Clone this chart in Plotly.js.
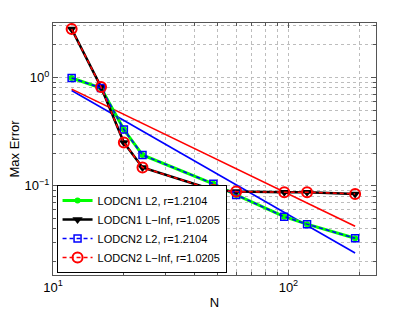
<!DOCTYPE html>
<html>
<head>
<meta charset="utf-8">
<script src="https://cdn.plot.ly/plotly-3.0.1.min.js"></script>
<style>html,body{margin:0;padding:0;background:#fff;}#chart{width:415px;height:310px;}</style>
</head>
<body>
<div id="chart"></div>
<script>
// Data
var N = [12, 16, 20, 24, 48, 60, 96, 120, 192];
var cn1L2 = [0.99, 0.80, 0.33, 0.192, 0.104, 0.082, 0.0516, 0.044, 0.0326];
var cn1Linf = [2.81, 0.815, 0.25, 0.147, 0.0912, 0.088, 0.0869, 0.0869, 0.0838];
var cn2L2 = [0.99, 0.80, 0.33, 0.192, 0.104, 0.082, 0.0516, 0.044, 0.0326];
var cn2Linf = [2.81, 0.815, 0.25, 0.147, 0.0912, 0.088, 0.0869, 0.0869, 0.0838];
// Reference slope lines (endpoints)
var refN = [12, 192];
var refLinf = [0.78, 0.042];
var refL2 = [0.758, 0.0238];
var names = ['LODCN1 L2, r=1.2104', 'LODCN1 L\u2212Inf, r=1.0205', 'LODCN2 L2, r=1.2104', 'LODCN2 L\u2212Inf, r=1.0205'];

var xMinorVals = [], yMinorVals = [];
[10, 100].forEach(function (d) { for (var k = 2; k <= 9; k++) xMinorVals.push(d * k); });
[0.01, 0.1, 1].forEach(function (d) { for (var k = 2; k <= 9; k++) yMinorVals.push(d * k); });

var traces = [
  {x: refN, y: refL2, mode: 'lines', line: {color: '#0000ff', width: 1.6}, showlegend: false, hoverinfo: 'skip'},
  {x: refN, y: refLinf, mode: 'lines', line: {color: '#ff0000', width: 1.6}, showlegend: false, hoverinfo: 'skip'},
  {x: N, y: cn1L2, name: names[0], mode: 'lines+markers', line: {color: '#00ff00', width: 3},
   marker: {symbol: 'circle', size: 6, color: '#00ff00'}},
  {x: N, y: cn1Linf, name: names[1], mode: 'lines+markers', line: {color: '#000000', width: 2.5},
   marker: {symbol: 'triangle-down', size: 9, color: '#000000'}},
  {x: N, y: cn2L2, name: names[2], mode: 'lines+markers', line: {color: '#0000ff', width: 1.5, dash: '4px,3px'},
   marker: {symbol: 'square-open', size: 7, color: '#0000ff', line: {width: 1.5}}},
  {x: N, y: cn2Linf, name: names[3], mode: 'lines+markers', line: {color: '#ff0000', width: 1.5, dash: '4px,3px'},
   marker: {symbol: 'circle-open', size: 10, color: '#ff0000', line: {width: 2}}}
];

var fontFam = 'Liberation Sans, Arial, sans-serif';
var gridCol = '#bdbdbd';
var axisCommon = {
  type: 'log', showline: true, linecolor: '#555', linewidth: 1, mirror: 'ticks',
  ticks: 'inside', ticklen: 5, tickcolor: '#555', tickwidth: 1,
  showgrid: true, gridcolor: gridCol, griddash: 'dot', gridwidth: 1,
  zeroline: false, tickfont: {family: fontFam, size: 13, color: '#000'},
  tickmode: 'array'
};

var layout = {
  width: 415, height: 310,
  margin: {l: 53, r: 39, t: 23, b: 35},
  paper_bgcolor: '#fff', plot_bgcolor: '#fff',
  font: {family: fontFam, color: '#000'},
  xaxis: Object.assign({}, axisCommon, {
    range: [1, 2.372],
    tickvals: [10, 100], ticktext: ['10<sup>1</sup>', '10<sup>2</sup>'],
    minor: {tickmode: 'array', tickvals: xMinorVals, ticks: 'inside', ticklen: 3, tickcolor: '#555',
            showgrid: true, gridcolor: gridCol, griddash: 'dot', gridwidth: 1},
    title: {text: 'N', font: {family: fontFam, size: 13}, standoff: 7}
  }),
  yaxis: Object.assign({}, axisCommon, {
    range: [-1.827, 0.504],
    tickvals: [0.1, 1], ticktext: ['10<sup>\u22121</sup>', '10<sup>0</sup>'],
    minor: {tickmode: 'array', tickvals: yMinorVals, ticks: 'inside', ticklen: 3, tickcolor: '#555',
            showgrid: true, gridcolor: gridCol, griddash: 'dot', gridwidth: 1},
    title: {text: 'Max Error', font: {family: fontFam, size: 13}, standoff: 2}
  }),
  legend: {
    x: 0.011, y: 0.008, xanchor: 'left', yanchor: 'bottom',
    bgcolor: '#fff', bordercolor: '#000', borderwidth: 1,
    font: {family: fontFam, size: 11, color: '#000'},
    itemwidth: 30, tracegroupgap: 0
  },
  showlegend: true
};

Plotly.newPlot('chart', traces, layout, {displayModeBar: false, staticPlot: true});
</script>
</body>
</html>
